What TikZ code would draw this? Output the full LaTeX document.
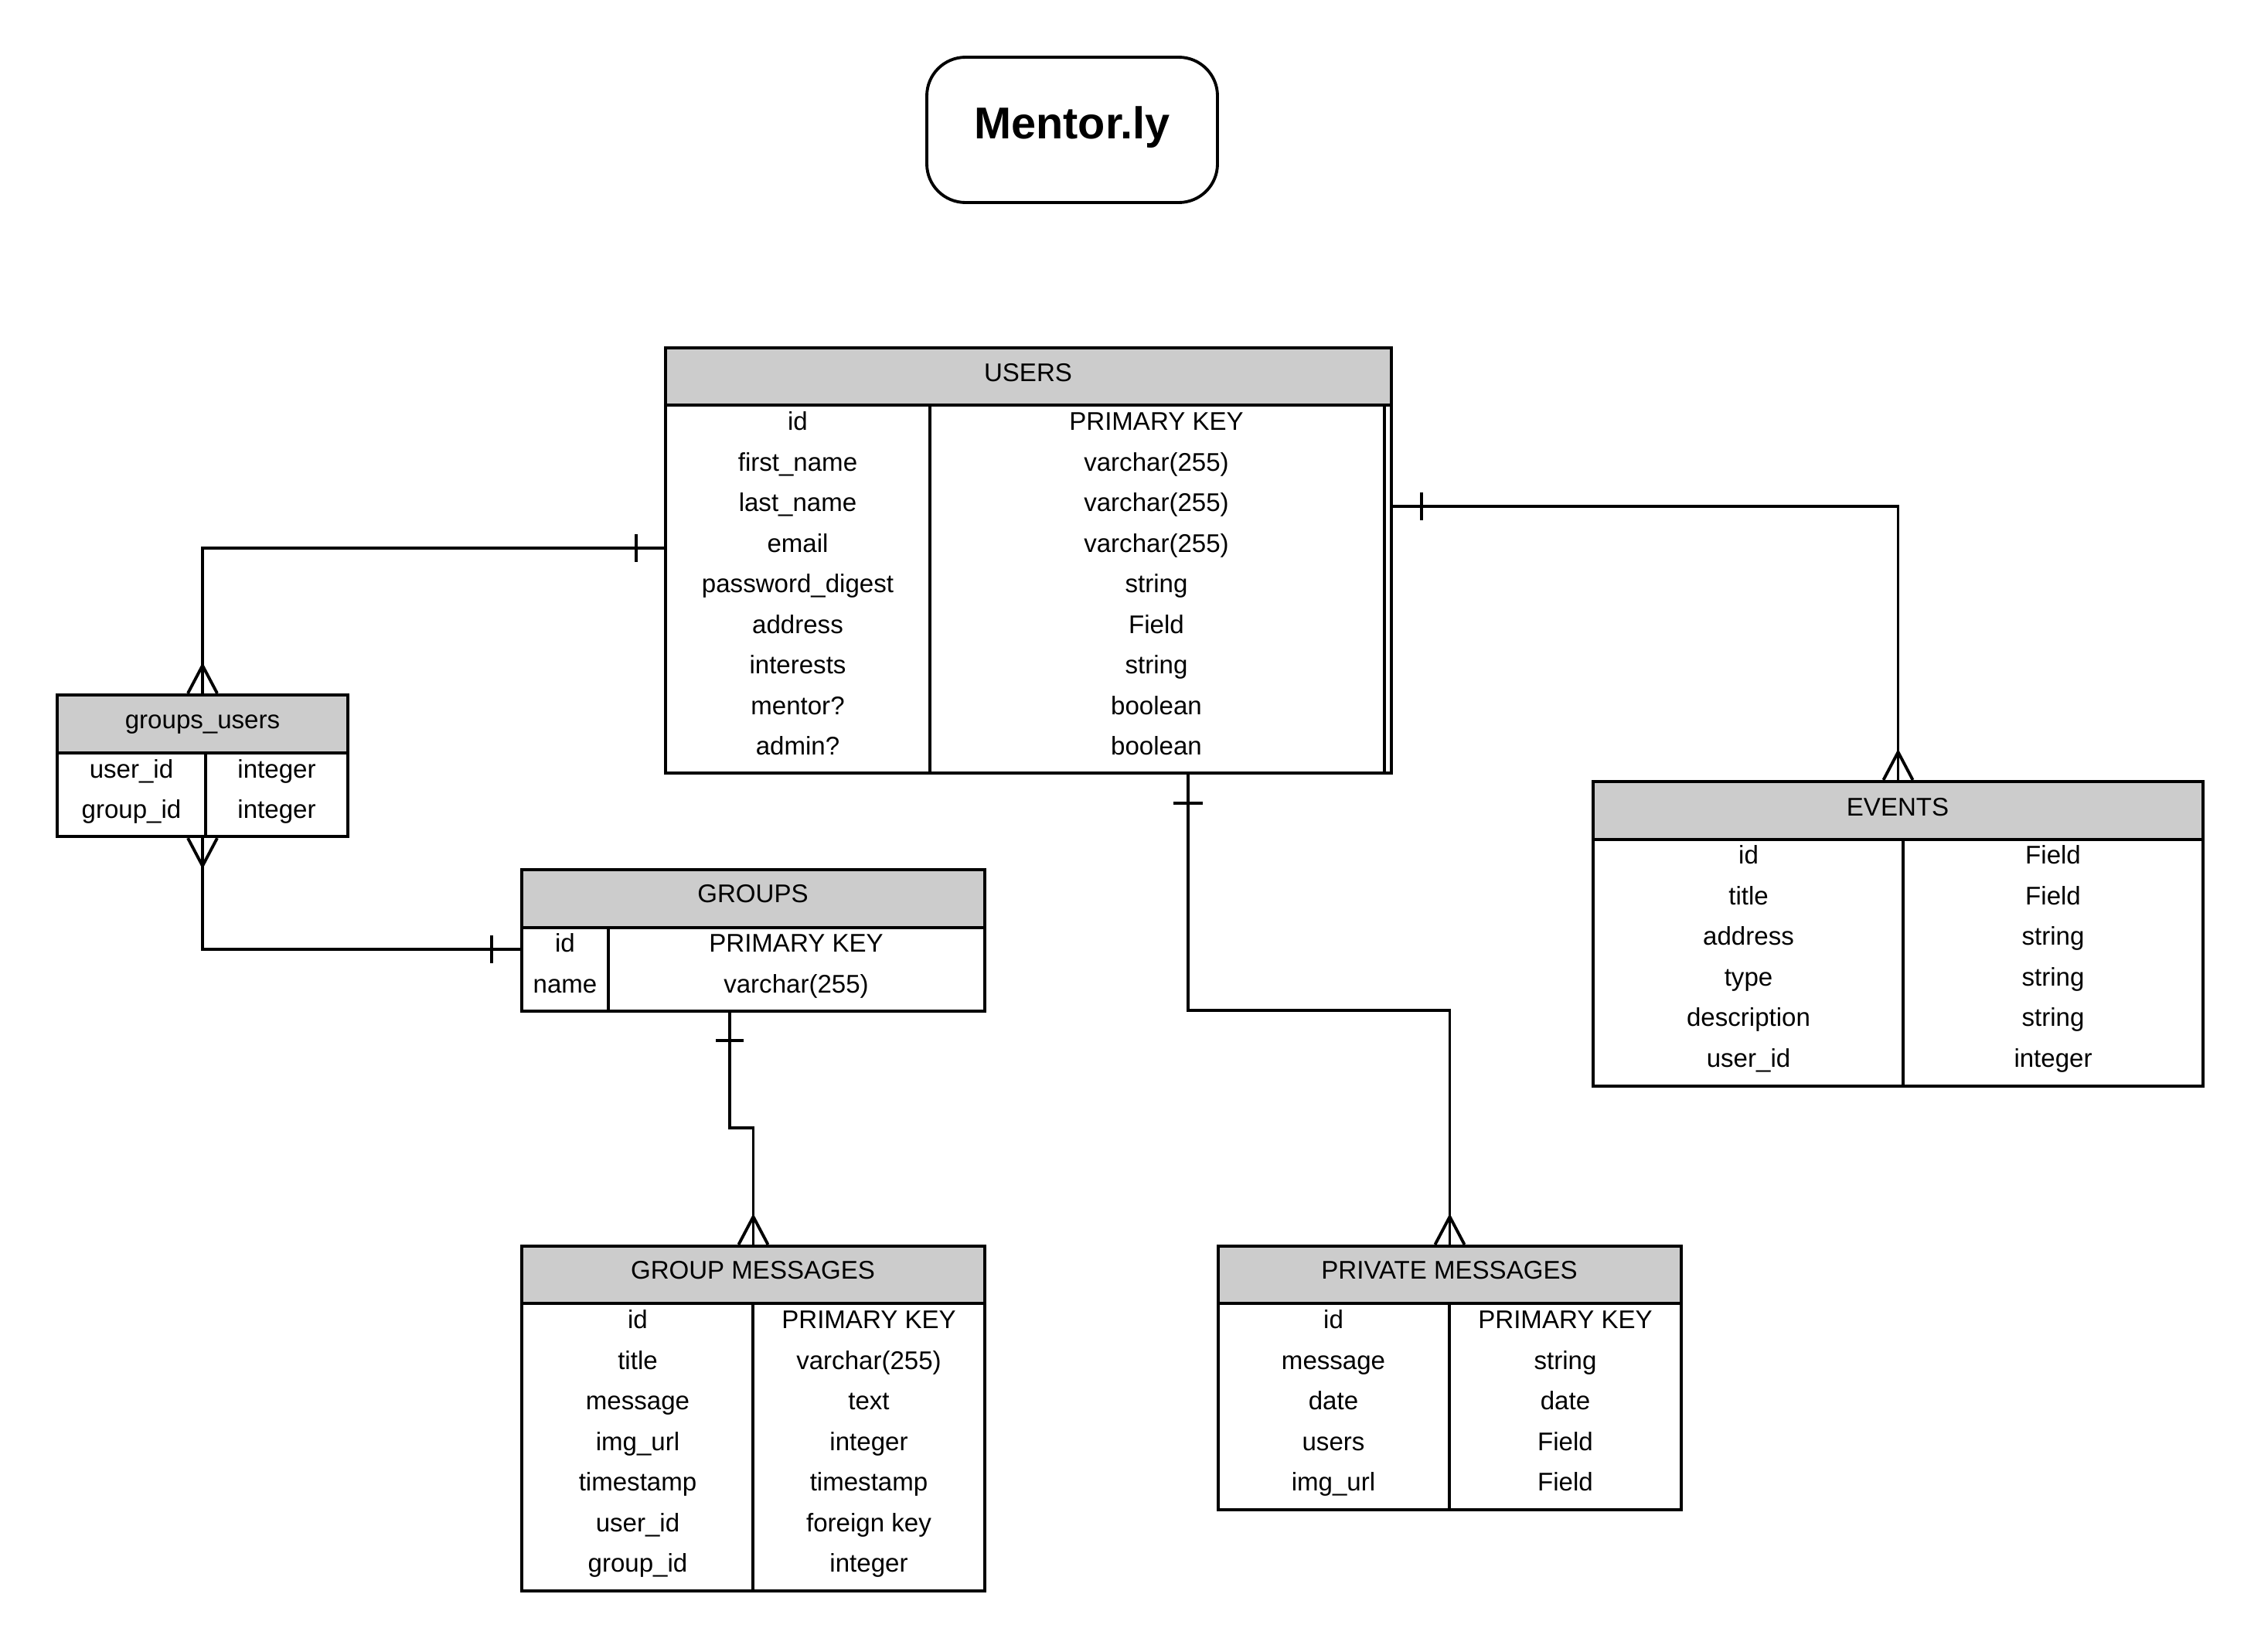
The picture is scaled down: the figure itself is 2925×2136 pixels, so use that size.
\documentclass[tikz,border=0pt]{standalone}
\usepackage{fontspec}
\setmainfont{Liberation Sans}
\usetikzlibrary{calc,fit}
\definecolor{headgray}{HTML}{CCCCCC}
\begin{document}
\begin{tikzpicture}[x=0.01cm,y=-0.01cm,
  cell/.style={font=\fontsize{9.4}{11}\selectfont, inner sep=0pt, text height=0.72em, text depth=0.12em, anchor=center},
  tblframe/.style={draw, inner sep=0pt, line width=1.2pt},
  tblhead/.style={draw, fill=headgray, inner sep=0pt, line width=1.2pt},
  link/.style={line width=1.1pt},
  crow/.pic={\draw[link] (-19,0) -- (0,-36) -- (19,0);},
]
\useasboundingbox[fill=white] (0,0) rectangle (2925,2136);

% ---------- title ----------
\node[draw, line width=1.1pt, rounded corners=0.5cm, inner sep=0pt, fit={(1199,74) (1575,262)}] (title) {};
\node[font=\fontsize{16.4}{19}\bfseries\selectfont, inner sep=0pt, text height=0.72em, text depth=0.12em] (titletext) at (1387,169) {Mentor.ly};

% ---------- USERS ----------
\node[tblhead, fit={(861,450) (1800,524)}] (usersH) {};
\node[tblframe, fit={(861,450) (1800,1000)}] (users) {};
\draw[line width=1.2pt] (1791,524) -- (1791,1000);
\draw[line width=1.2pt] (1203,524) -- (1203,1000);
\node[cell] (usersT) at (1330,483) {USERS};
\foreach \a/\b [count=\i from 0] in {id/PRIMARY KEY, first\_name/varchar(255), last\_name/varchar(255), email/varchar(255), password\_digest/string, address/Field, interests/string, mentor?/boolean, admin?/boolean}{
  \node[cell] (users-l\i) at (1032,{546+52.5*\i}) {\a};
  \node[cell] (users-r\i) at (1496,{546+52.5*\i}) {\b};
}

% ---------- groups_users ----------
\node[tblhead, fit={(74,899) (450,974)}] (guH) {};
\node[tblframe, fit={(74,899) (450,1082)}] (gu) {};
\draw[line width=1.2pt] (266,974) -- (266,1082);
\node[cell] (guT) at (262,932) {groups\_users};
\foreach \a/\b [count=\i from 0] in {user\_id/integer, group\_id/integer}{
  \node[cell] (gu-l\i) at (170,{996+52*\i}) {\a};
  \node[cell] (gu-r\i) at (358,{996+52*\i}) {\b};
}

% ---------- GROUPS ----------
\node[tblhead, fit={(675,1125) (1274,1200)}] (groupsH) {};
\node[tblframe, fit={(675,1125) (1274,1308)}] (groups) {};
\draw[line width=1.2pt] (787,1200) -- (787,1308);
\node[cell] (groupsT) at (974,1157) {GROUPS};
\foreach \a/\b [count=\i from 0] in {id/PRIMARY KEY, name/varchar(255)}{
  \node[cell] (groups-l\i) at (731,{1221+52.5*\i}) {\a};
  \node[cell] (groups-r\i) at (1030,{1221+52.5*\i}) {\b};
}

% ---------- GROUP MESSAGES ----------
\node[tblhead, fit={(675,1612) (1274,1686)}] (gmH) {};
\node[tblframe, fit={(675,1612) (1274,2058)}] (gm) {};
\draw[line width=1.2pt] (974,1686) -- (974,2058);
\node[cell] (gmT) at (974,1644) {GROUP MESSAGES};
\foreach \a/\b [count=\i from 0] in {id/PRIMARY KEY, title/varchar(255), message/text, img\_url/integer, timestamp/timestamp, user\_id/foreign key, group\_id/integer}{
  \node[cell] (gm-l\i) at (825,{1708+52.5*\i}) {\a};
  \node[cell] (gm-r\i) at (1124,{1708+52.5*\i}) {\b};
}

% ---------- PRIVATE MESSAGES ----------
\node[tblhead, fit={(1576,1612) (2175,1686)}] (pmH) {};
\node[tblframe, fit={(1576,1612) (2175,1953)}] (pm) {};
\draw[line width=1.2pt] (1875,1686) -- (1875,1953);
\node[cell] (pmT) at (1875,1644) {PRIVATE MESSAGES};
\foreach \a/\b [count=\i from 0] in {id/PRIMARY KEY, message/string, date/date, users/Field, img\_url/Field}{
  \node[cell] (pm-l\i) at (1725,{1708+52.5*\i}) {\a};
  \node[cell] (pm-r\i) at (2025,{1708+52.5*\i}) {\b};
}

% ---------- EVENTS ----------
\node[tblhead, fit={(2061,1011) (2850,1086)}] (eventsH) {};
\node[tblframe, fit={(2061,1011) (2850,1405)}] (events) {};
\draw[line width=1.2pt] (2462,1086) -- (2462,1405);
\node[cell] (eventsT) at (2455,1045) {EVENTS};
\foreach \a/\b [count=\i from 0] in {id/Field, title/Field, address/string, type/string, description/string, user\_id/integer}{
  \node[cell] (events-l\i) at (2262,{1107+52.5*\i}) {\a};
  \node[cell] (events-r\i) at (2656,{1107+52.5*\i}) {\b};
}

% ---------- relationships ----------
% users -- groups_users
\coordinate (uGu) at (users.west |- 0,709);
\draw[link] (uGu) -| (gu.north);
\draw[link] ($(uGu)+(-36,-18)$) -- ++(0,36);
\pic at (gu.north) {crow};

% groups_users -- groups
\coordinate (gGu) at (groups.west |- 0,1228);
\draw[link] (gu.south) |- (gGu);
\draw[link] ($(gGu)+(-37,-18)$) -- ++(0,36);
\pic[rotate=180] at (gu.south) {crow};

% groups -- group messages
\coordinate (gGm) at (groups.south -| 944,0);
\draw[link] (gGm) -- (944,1459) -| (gm.north);
\draw[link] ($(gGm)+(-18,36)$) -- ++(36,0);
\pic at (gm.north) {crow};

% users -- private messages
\coordinate (uPm) at (users.south -| 1537,0);
\draw[link] (uPm) -- (1537,1307) -| (pm.north);
\draw[link] ($(uPm)+(-19,37)$) -- ++(38,0);
\pic at (pm.north) {crow};

% users -- events
\coordinate (uEv) at (users.east |- 0,655);
\draw[link] (uEv) -| (events.north);
\draw[link] ($(uEv)+(37,-18)$) -- ++(0,36);
\pic at (events.north) {crow};
\end{tikzpicture}
\end{document}
